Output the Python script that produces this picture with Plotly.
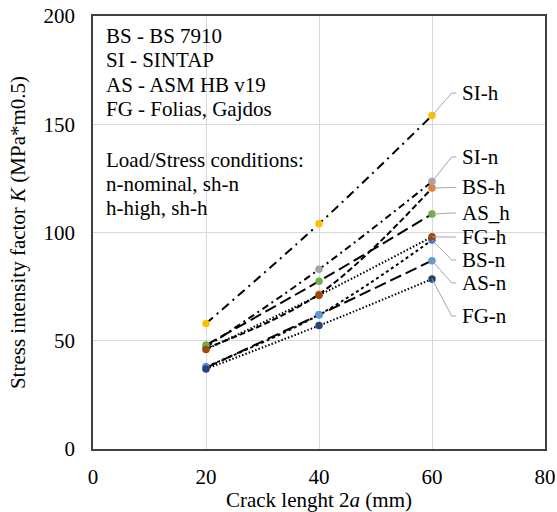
import plotly.graph_objects as go

crack_length = [20, 40, 60]
series_names = ["BS-n", "BS-h", "SI-n", "SI-h", "AS-n", "AS_h", "FG-n", "FG-h"]
bs_n = [38, 62, 96.5]
bs_h = [46.5, 71.5, 120.5]
si_n = [47, 83, 123.5]
si_h = [58, 104, 154]
as_n = [37.5, 62, 87]
as_h = [48, 77.5, 108.5]
fg_n = [37, 57, 78.5]
fg_h = [46, 71, 98]
series_values = [bs_n, bs_h, si_n, si_h, as_n, as_h, fg_n, fg_h]

info_lines = ["BS - BS 7910", "SI - SINTAP", "AS - ASM HB v19", "FG - Folias, Gajdos",
              "Load/Stress conditions:", "n-nominal, sh-n", "h-high, sh-h"]

# styles / layout
colors = ["#4472C4", "#ED7D31", "#A5A5A5", "#FFC000", "#5B9BD5", "#70AD47", "#264478", "#9E480E"]
dashes = ["dot", "6px,3px", "7px,4px,2px,4px", "9px,5px,2px,5px", "12px,5px", "12px,5px", "1.5px,2px", "1.5px,2px"]
label_y = [87.3, 120.8, 134.9, 164.4, 76.7, 109, 61.4, 97.9]       # right labels (axis units)
info_y_px = [35.7, 60, 84.5, 109, 159.5, 183.5, 208]               # info text lines (pixels)

FONT = "Liberation Serif, Times New Roman, serif"
FS = 21
W, H = 557, 512
ML, MR, MT, MB = 93, 12, 16, 63
PH = H - MT - MB

fig = go.Figure()
for name, vals, col, dsh in zip(series_names, series_values, colors, dashes):
    fig.add_trace(go.Scatter(
        x=crack_length, y=vals, name=name, mode="lines+markers",
        line=dict(color="black", width=2, dash=dsh, shape="spline"),
        marker=dict(color=col, size=7.5),
        showlegend=False, hoverinfo="x+y+name",
    ))

for name, vals, ly in zip(series_names, series_values, label_y):
    x_end = crack_length[-1]
    fig.add_shape(type="path",
                  path=f"M {x_end},{vals[-1]} L {x_end+3.5},{ly} L {x_end+4.3},{ly}",
                  xref="x", yref="y", line=dict(color="#A6A6A6", width=1))
    fig.add_annotation(x=x_end + 5.0, y=ly, xref="x", yref="y", text=name,
                       showarrow=False, xanchor="left", yanchor="middle",
                       font=dict(family=FONT, size=FS, color="black"))

for txt, py in zip(info_lines, info_y_px):
    fig.add_annotation(x=(104 - ML) / (W - ML - MR), y=(H - MB - py) / PH,
                       xref="paper", yref="paper", text=txt,
                       showarrow=False, xanchor="left", yanchor="middle", align="left",
                       font=dict(family=FONT, size=FS, color="black"))

axis_common = dict(showline=True, linecolor="#404040", linewidth=1.5, mirror=True,
                   showgrid=True, gridcolor="#D9D9D9", gridwidth=1, zeroline=False,
                   ticks="", automargin=False,
                   tickfont=dict(family=FONT, size=FS, color="black"))
fig.update_xaxes(range=[0, 80], dtick=20, ticklabelstandoff=8,
                 title=dict(text="Crack lenght 2<i>a</i> (mm)", font=dict(family=FONT, size=FS, color="black"), standoff=2),
                 **axis_common)
fig.update_yaxes(range=[0, 200], dtick=50, ticklabelstandoff=12,
                 title=dict(text="Stress intensity factor <i>K</i> (MPa*m0.5)", font=dict(family=FONT, size=FS, color="black"), standoff=12),
                 **axis_common)

fig.update_layout(width=W, height=H, margin=dict(l=ML, r=MR, t=MT, b=MB),
                  plot_bgcolor="white", paper_bgcolor="white",
                  font=dict(family=FONT, size=FS, color="black"))
fig.write_html("out.html", config={"displayModeBar": False},
               post_script="document.body.style.margin='0';document.body.style.overflow='hidden';")
